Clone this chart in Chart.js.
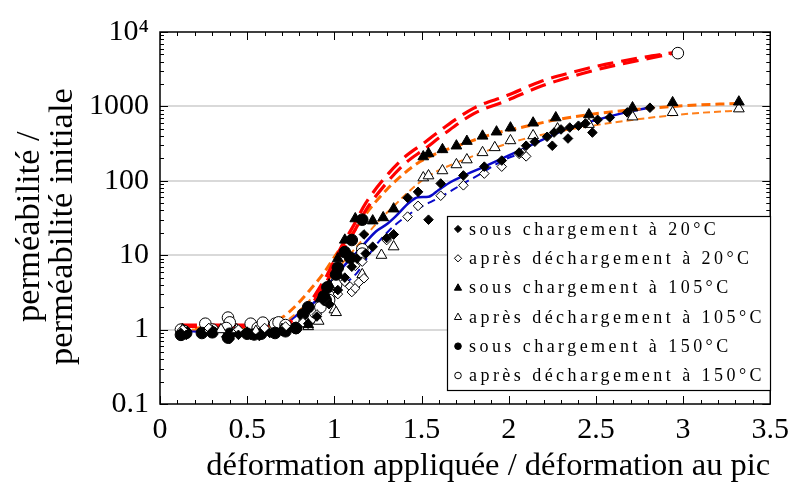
<!DOCTYPE html>
<html>
<head>
<meta charset="utf-8">
<script src="https://cdn.jsdelivr.net/npm/chart.js@4.4.1/dist/chart.umd.min.js"></script>
<style>
  html, body { margin: 0; padding: 0; background: #fff; }
  #wrap { width: 797px; height: 489px; }
</style>
</head>
<body>
<div id="wrap"><canvas id="chartPerm"></canvas></div>
<script>
// Perméabilité relative en fonction de la déformation (courbes + mesures)

// ── Mesures (x = déformation / pic, y = perméabilité / initiale) ──
const sous20 = [[0.12,0.9],[0.15,0.85],[0.24,0.9],[0.3,0.95],[0.38,0.8],[0.4,0.75],[0.45,0.85],[0.52,0.85],[0.57,0.82],
    [0.63,0.9],[0.7,0.95],[0.78,1.05],[0.85,1.2],[0.9,1.5],[0.97,2.2],[1.02,3.4],[1.06,5],[1.1,7],[1.13,9],[1.17,19],
    [1.18,10.5],[1.22,13],[1.3,17],[1.34,19],[1.42,59],[1.48,71],[1.54,30],[1.61,92],[1.74,118],[1.86,155],[1.96,187],
    [2.06,240],[2.1,296],[2.15,335],[2.22,390],[2.25,296],[2.26,445],[2.3,490],[2.34,370],[2.35,520],[2.4,550],
    [2.44,590],[2.48,445],[2.51,660],[2.58,710],[2.68,830],[2.81,960]];
const apres20 = [[0.13,1.0],[0.28,1.05],[0.45,1.0],[0.6,1.05],[0.72,1.1],[0.82,1.25],[0.9,1.6],[0.97,2.2],[1.02,3.0],
    [1.06,4.4],[1.09,3.8],[1.1,3.2],[1.12,3.6],[1.14,4.3],[1.17,4.9],[1.12,7.2],[1.16,8.2],[1.3,16],[1.34,19],
    [1.42,33],[1.48,46],[1.61,63],[1.74,87],[1.86,125],[1.96,155],[2.06,230],[2.08,235],[2.1,213]];
const sous105 = [[0.13,1.0],[0.3,0.95],[0.5,0.9],[0.7,1.0],[0.85,1.17],[0.92,2.6],[0.97,4],[1.02,9],[1.06,16],
    [1.12,31],[1.22,29],[1.28,32],[1.34,42],[1.51,211],[1.54,232],[1.62,263],[1.7,295],[1.76,340],[1.85,400],
    [1.93,455],[2.01,515],[2.14,600],[2.27,705],[2.46,775],[2.71,960],[2.94,1125],[3.32,1150]];
const apres105 = [[0.28,1.0],[0.35,1.0],[0.44,1.0],[0.55,0.95],[0.7,1.0],[0.85,1.1],[0.91,1.3],[1.0,1.85],[1.01,1.7],
    [1.16,5.5],[1.27,10],[1.34,13],[1.51,110],[1.54,117],[1.62,137],[1.7,165],[1.76,192],[1.85,240],[1.92,280],
    [2.01,347],[2.14,405],[2.28,500],[2.46,575],[2.71,725],[2.94,830],[3.32,930]];
const sous150 = [[0.12,0.85],[0.15,0.9],[0.24,0.9],[0.3,0.92],[0.39,0.78],[0.4,0.88],[0.5,0.88],[0.54,0.86],[0.58,0.88],
    [0.66,0.9],[0.72,0.95],[0.78,1.05],[0.82,1.6],[0.85,2.0],[0.94,2.8],[0.95,2.5],[0.96,3.7],[1.01,5.5],[1.02,6.8],
    [1.06,11],[1.09,9.3],[1.1,16],[1.16,30]];
const apres150 = [[0.12,1.0],[0.14,0.95],[0.26,1.2],[0.3,1.0],[0.39,1.45],[0.4,1.25],[0.38,1.05],[0.52,1.2],[0.56,1.05],
    [0.59,1.24],[0.66,1.2],[0.68,1.25],[0.72,1.15],[0.78,1.05],[0.83,1.3],[0.86,1.4],[0.89,1.7],[0.92,2.0],[0.97,2.8],
    [0.97,2.5],[1.02,4.7],[1.01,4.0],[1.11,8.7],[1.16,12],[1.16,10.5],[2.97,5200]];

// ── Courbes d'ajustement ──
const redX   = [0.12,0.4,0.65,0.8,0.91,0.96,1.0,1.04,1.11,1.18,1.31,1.41,1.52,1.62,1.8,1.99,2.18,2.37,2.56,2.78,2.95];
const redY1  = [1.15,1.15,1.2,1.5,3.5,5.5,8.5,13,25,50,125,215,330,500,950,1400,2150,2900,3700,4600,5300];
const redY2  = [1.1,1.1,1.12,1.35,3.0,4.6,7,11,20,40,100,175,270,410,800,1200,1850,2550,3350,4300,5200];
const orange1X = [0.12,0.4,0.6,0.7,0.77,0.85,0.94,1.03,1.12,1.2,1.3,1.39,1.49,1.6,1.75,1.9,2.1,2.3,2.6,3.0,3.33];
const orange1Y = [1.05,1.05,1.1,1.45,2.0,3.2,5.8,12,22,41,76,120,180,240,320,420,540,680,850,1020,1100];
const orange2X = [0.12,0.6,0.72,0.8,0.88,0.96,1.05,1.15,1.25,1.35,1.45,1.55,1.7,1.85,2.0,2.2,2.5,2.8,3.1,3.33];
const orange2Y = [1.0,1.05,1.3,1.8,2.8,4.5,8,15,28,48,80,120,175,240,320,420,560,700,820,880];
const blueX  = [0.12,0.3,0.5,0.65,0.79,0.9,1.02,1.13,1.24,1.3,1.35,1.43,1.48,1.54,1.6,1.67,1.73,1.86,2.1,2.33,2.67,2.8];
const blueY  = [0.95,0.95,0.93,0.97,1.6,2.5,5.8,11,21,26,33,51,60,61,76,97,114,155,280,490,830,960];
const blue2X = [0.12,0.4,0.65,0.8,0.9,1.02,1.13,1.22,1.31,1.41,1.5,1.6,1.73,1.84,1.97,2.05];
const blue2Y = [0.95,0.95,0.97,1.15,1.5,3.4,5.8,12,21,33,45,59,89,125,190,225];

// ── Axes ──
const xTicks = [0, 0.5, 1, 1.5, 2, 2.5, 3, 3.5];
const yTicks = [0.1, 1, 10, 100, 1000, 10000];
const yLabels = ['0.1', '1', '10', '100', '1000', '10⁴'];

const legendLabels = [
    'sous chargement à 20°C',
    'après déchargement à 20°C',
    'sous chargement à 105°C',
    'après déchargement à 105°C',
    'sous chargement à 150°C',
    'après déchargement à 150°C',
];

const toPts = arr => arr.map(p => ({ x: p[0], y: p[1] }));
const zip = (xs, ys) => xs.map((x, i) => ({ x, y: ys[i] }));

function marks(label, data, style, filled, radius) {
    return {
        type: 'scatter', label, data: toPts(data),
        pointStyle: style, pointRadius: radius,
        backgroundColor: filled ? '#000' : '#fff',
        borderColor: '#000', borderWidth: 1, order: 1,
    };
}
function curve(xs, ys, color, width, dash) {
    return {
        type: 'line', data: zip(xs, ys), showLine: true,
        borderColor: color, borderWidth: width, borderDash: dash,
        pointRadius: 0, fill: false, cubicInterpolationMode: 'monotone',
        order: 2,
    };
}

const datasets = [
    marks(legendLabels[0], sous20, 'rectRot', true, 4.8),
    marks(legendLabels[1], apres20, 'rectRot', false, 4.8),
    marks(legendLabels[2], sous105, 'triangle', true, 6.2),
    marks(legendLabels[3], apres105, 'triangle', false, 6.2),
    marks(legendLabels[4], sous150, 'circle', true, 5.8),
    marks(legendLabels[5], apres150, 'circle', false, 5.8),
    curve(redX, redY1, '#ff0000', 3.2, [16, 8]),
    curve(redX, redY2, '#ff0000', 3.2, [16, 8]),
    curve(orange1X, orange1Y, '#ff6a00', 3, [9, 5]),
    curve(orange2X, orange2Y, '#ff7f1a', 2, [7, 4]),
    curve(blueX, blueY, '#0a0ac8', 2.5, []),
    curve(blue2X, blue2Y, '#0a0ac8', 2, [8, 5]),
];

const serif = '"Liberation Serif", "DejaVu Serif", serif';

// cadre + graduations intérieures
const frameTicks = {
    id: 'frameTicks',
    afterDatasetsDraw(chart) {
        const { ctx, chartArea: a, scales: { x, y } } = chart;
        ctx.save();
        ctx.strokeStyle = '#000';
        ctx.lineWidth = 1.5;
        ctx.strokeRect(a.left, a.top, a.right - a.left, a.bottom - a.top);
        ctx.lineWidth = 1;
        ctx.beginPath();
        for (let i = 0; i <= 35; i++) {
            const px = Math.round(x.getPixelForValue(i / 10)) + 0.5;
            const len = i % 5 === 0 ? 8 : 4;
            ctx.moveTo(px, a.bottom); ctx.lineTo(px, a.bottom - len);
            ctx.moveTo(px, a.top); ctx.lineTo(px, a.top + len);
        }
        for (let d = -1; d <= 4; d++) {
            for (let m = 1; m <= 9; m++) {
                const v = m * Math.pow(10, d);
                if (v > 10000) break;
                const py = Math.round(y.getPixelForValue(v)) + 0.5;
                const len = m === 1 ? 8 : 4;
                ctx.moveTo(a.left, py); ctx.lineTo(a.left + len, py);
                ctx.moveTo(a.right, py); ctx.lineTo(a.right - len, py);
            }
        }
        ctx.stroke();
        ctx.restore();
    }
};

// légende encadrée dans le graphe
const boxLegend = {
    id: 'boxLegend',
    afterDraw(chart) {
        const { ctx, chartArea: a } = chart;
        const left = a.left + 287, top = 216, w = 323, h = 174, row = 29.3;
        ctx.save();
        ctx.fillStyle = '#fff';
        ctx.fillRect(left, top, w, h);
        ctx.strokeStyle = '#000';
        ctx.lineWidth = 1.2;
        ctx.strokeRect(left + 0.5, top + 0.5, w, h);
        ctx.font = '18px ' + serif;
        ctx.letterSpacing = '3.45px';
        ctx.textBaseline = 'middle';
        legendLabels.forEach((txt, i) => {
            const ds = chart.data.datasets[i];
            const cx = left + 11, cy = top + 13 + i * row;
            ctx.fillStyle = ds.backgroundColor;
            ctx.strokeStyle = '#000';
            ctx.lineWidth = 1;
            ctx.beginPath();
            if (ds.pointStyle === 'circle') ctx.arc(cx, cy, 3.3, 0, Math.PI * 2);
            else if (ds.pointStyle === 'triangle') { ctx.moveTo(cx, cy - 3.8); ctx.lineTo(cx + 3.6, cy + 2.6); ctx.lineTo(cx - 3.6, cy + 2.6); ctx.closePath(); }
            else { ctx.moveTo(cx, cy - 3.6); ctx.lineTo(cx + 3.6, cy); ctx.lineTo(cx, cy + 3.6); ctx.lineTo(cx - 3.6, cy); ctx.closePath(); }
            ctx.fill(); ctx.stroke();
            ctx.fillStyle = '#000';
            ctx.fillText(txt, left + 22, cy + 1);
        });
        ctx.restore();
    }
};

new Chart(document.getElementById('chartPerm'), {
    type: 'scatter',
    data: { datasets },
    options: {
        responsive: true,
        maintainAspectRatio: false,
        animation: false,
        layout: { padding: { top: 32, right: 17, left: 0, bottom: 0 } },
        plugins: { legend: { display: false }, tooltip: { enabled: false } },
        scales: {
            x: {
                type: 'linear', min: 0, max: 3.5,
                afterBuildTicks: s => { s.ticks = xTicks.map(v => ({ value: v })); },
                afterFit: s => { s.height = 85; },
                ticks: { color: '#000', font: { family: serif, size: 30 }, padding: 8,
                         callback: v => String(v) },
                grid: { display: false, drawTicks: false },
                border: { display: false },
                title: { display: true, align: 'end', text: 'déformation appliquée / déformation au pic', color: '#000',
                         font: { family: serif, size: 32.5 }, padding: { top: 0, bottom: 3 } },
            },
            y: {
                type: 'logarithmic', min: 0.1, max: 10000,
                afterBuildTicks: s => { s.ticks = yTicks.map(v => ({ value: v })); },
                afterFit: s => { s.width = 160; },
                ticks: { color: '#000', font: { family: serif, size: 30 }, padding: 11,
                         callback: v => yLabels[yTicks.indexOf(v)] ?? '' },
                grid: {
                    drawTicks: false, lineWidth: 2,
                    color: c => (c.tick && c.tick.value > 0.1 && c.tick.value < 10000) ? '#d9d9d9' : 'rgba(0,0,0,0)',
                },
                border: { display: false },
                title: { display: true, text: ['perméabilité /\u00a0\u00a0', 'perméabilité initiale\u00a0\u00a0'], color: '#000',
                         font: { family: serif, size: 34.5, lineHeight: 0.96 }, padding: { top: 13, bottom: 0 } },
            }
        }
    },
    plugins: [frameTicks, boxLegend]
});
</script>
</body>
</html>
